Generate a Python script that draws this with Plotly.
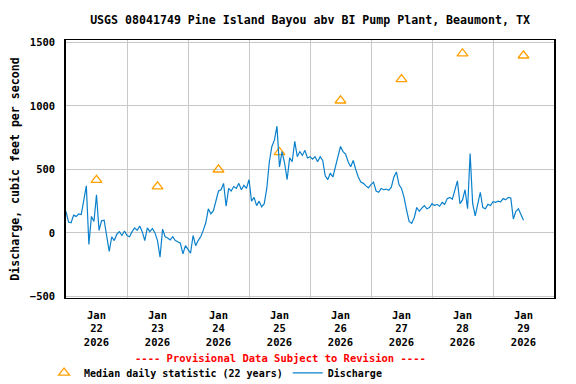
import pandas as pd
import plotly.graph_objects as go

# ---- data ----
jan22 = [170, 85, 80, 140, 130, 150, 145, 250, 370, -90, 130, 90, 300, 20, 95, 100, -40, -145, -30, -60, -10, 10, -20, 15]
jan23 = [-20, -30, 10, 40, 20, 55, 10, -60, 40, 10, 35, 0, -60, -190, 30, -30, -40, -55, -30, -60, -70, -80, -165, -100]
jan24 = [-130, -160, -20, -100, -60, -30, 20, 80, 190, 150, 175, 260, 330, 340, 390, 210, 350, 330, 365, 350, 390, 340, 375, 350]
jan25 = [420, 250, 280, 215, 250, 205, 230, 350, 560, 680, 730, 840, 520, 640, 550, 420, 590, 560, 720, 600, 640, 610, 650, 590]
jan26 = [600, 580, 600, 560, 600, 570, 450, 420, 470, 440, 530, 600, 680, 640, 620, 560, 520, 570, 500, 440, 400, 390, 370, 355]
jan27 = [380, 400, 330, 320, 350, 340, 345, 335, 360, 440, 480, 380, 350, 280, 180, 90, 75, 120, 200, 170, 195, 215, 190, 200]
jan28 = [230, 215, 225, 210, 240, 225, 270, 280, 265, 350, 410, 230, 260, 340, 190, 625, 230, 135, 220, 320, 200, 190, 225, 215]
jan29 = [245, 240, 250, 245, 270, 260, 280, 275, 110, 170, 190, 140, 100]

discharge = jan22 + jan23 + jan24 + jan25 + jan26 + jan27 + jan28 + jan29
discharge_times = pd.date_range("2026-01-22 00:00", periods=len(discharge), freq="h")

median_days = ["2026-01-22 12:00", "2026-01-23 12:00", "2026-01-24 12:00", "2026-01-25 12:00",
               "2026-01-26 12:00", "2026-01-27 12:00", "2026-01-28 12:00", "2026-01-29 12:00"]
median_values = [416, 365, 498, 635, 1041, 1209, 1412, 1395]

title_text = "USGS 08041749 Pine Island Bayou abv BI Pump Plant, Beaumont, TX"
y_title = "Discharge, cubic feet per second"
provisional = "---- Provisional Data Subject to Revision ----"

FONT = "DejaVu Sans Mono"

fig = go.Figure()
fig.add_trace(go.Scatter(
    x=median_days, y=median_values, mode="markers",
    name="Median daily statistic (22 years)",
    marker=dict(symbol="triangle-up-open", size=9.5, color="#FFA000", line=dict(width=1.3, color="#FFA000")),
))
fig.add_trace(go.Scatter(
    x=discharge_times, y=discharge, mode="lines", name="Discharge",
    line=dict(color="#0A80CC", width=1.2),
))

fig.update_layout(
    width=576, height=384,
    margin=dict(l=66, r=22, t=40, b=86, autoexpand=False),
    paper_bgcolor="white", plot_bgcolor="white",
    title=dict(text=title_text, x=0.5, xref="paper", xanchor="center",
               y=1 - 20 / 384, yanchor="middle", automargin=False,
               font=dict(family=FONT, size=11.6, color="black", weight="bold")),
    font=dict(family=FONT, size=10.5, color="black", weight="bold"),
    showlegend=True,
    legend=dict(orientation="h", x=-0.045, xanchor="left", y=-0.29, yanchor="middle",
                font=dict(family=FONT, size=10, color="black", weight="bold"),
                itemwidth=30, bgcolor="rgba(0,0,0,0)", traceorder="normal"),
    annotations=[dict(text=provisional, xref="paper", yref="paper", x=(280 - 66) / 488, y=(298 - 358) / 258,
                      xanchor="center", yanchor="middle", showarrow=False,
                      font=dict(family=FONT, size=10.5, color="red", weight="bold"))],
)

fig.update_xaxes(
    type="date", range=["2026-01-22 00:00", "2026-01-30 00:00"],
    tick0="2026-01-22", dtick=86400000, ticklabelmode="period",
    tickformat="%b<br>%d<br>%Y", ticks="", ticklabelstandoff=7, automargin=False,
    showgrid=True, gridcolor="#C8C8C8", gridwidth=1,
    showline=True, linecolor="black", linewidth=1, mirror=True,
    tickfont=dict(family=FONT, size=10.5, color="black", weight="bold"),
)
fig.update_yaxes(
    range=[-512, 1518], dtick=500, tick0=0, automargin=False,
    showgrid=True, gridcolor="#C8C8C8", gridwidth=1,
    zeroline=True, zerolinecolor="#C8C8C8", zerolinewidth=1,
    showline=True, linecolor="black", linewidth=1.5, mirror=True,
    ticks="", ticklabelstandoff=7,
    tickfont=dict(family=FONT, size=10.5, color="black", weight="bold"),
    title=dict(text=y_title, standoff=8,
               font=dict(family=FONT, size=11.6, color="black", weight="bold")),
)

# the page's default 8px body margin would shift the 576x384 figure; remove it
fig.write_html("out.html", config={"displayModeBar": False},
               post_script="document.body.style.margin='0';")
